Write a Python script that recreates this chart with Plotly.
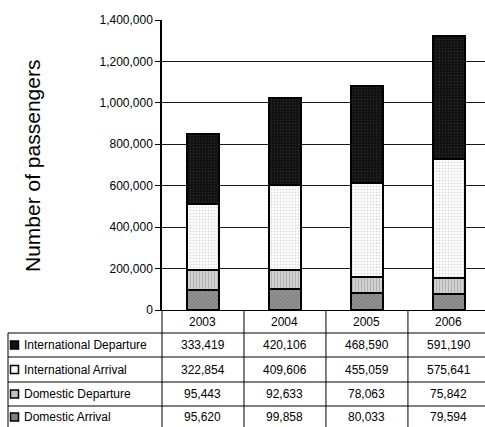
import plotly.graph_objects as go

years = ["2003", "2004", "2005", "2006"]
series_names = ["International Departure", "International Arrival", "Domestic Departure", "Domestic Arrival"]
intl_departure = [333419, 420106, 468590, 591190]
intl_arrival = [322854, 409606, 455059, 575641]
dom_departure = [95443, 92633, 78063, 75842]
dom_arrival = [95620, 99858, 80033, 79594]
y_ticks = [0, 200000, 400000, 600000, 800000, 1000000, 1200000, 1400000]

W, H = 485, 427
L, T, B = 162, 20, 117
PW = W - L
PH = H - T - B

def px_x(px):
    return (px - L) / PW

def px_y(py):
    return (H - B - py) / PH

FONT = "Liberation Sans, Arial, sans-serif"

styles = {
    "Domestic Arrival": dict(shape="x", bgcolor="#949494", fgcolor="#505050", size=3, solidity=0.35),
    "Domestic Departure": dict(shape="|", bgcolor="#d6d6d6", fgcolor="#8c8c8c", size=3, solidity=0.4),
    "International Arrival": dict(shape=".", bgcolor="#ffffff", fgcolor="#b8b8b8", size=3, solidity=0.35),
    "International Departure": dict(shape=".", bgcolor="#0d0d0d", fgcolor="#444444", size=3, solidity=0.3),
}
data_map = {
    "International Departure": intl_departure,
    "International Arrival": intl_arrival,
    "Domestic Departure": dom_departure,
    "Domestic Arrival": dom_arrival,
}

fig = go.Figure()
for name in ["Domestic Arrival", "Domestic Departure", "International Arrival", "International Departure"]:
    fig.add_trace(go.Bar(
        x=list(range(len(years))), y=data_map[name], name=name, width=0.39,
        marker=dict(color=styles[name]["bgcolor"], pattern=styles[name],
                    line=dict(color="black", width=2)),
        showlegend=False,
    ))

shapes = []
annotations = []
line = dict(color="black", width=1)

row_lines = [333, 357, 382, 406]
for py in row_lines:
    shapes.append(dict(type="line", xref="paper", yref="paper", x0=px_x(8), x1=px_x(W + 5),
                       y0=px_y(py), y1=px_y(py), line=line, layer="above"))
shapes.append(dict(type="line", xref="paper", yref="paper", x0=px_x(8), x1=px_x(8),
                   y0=px_y(333), y1=px_y(H + 5), line=line))
shapes.append(dict(type="line", xref="paper", yref="paper", x0=0, x1=0,
                   y0=px_y(310), y1=px_y(H + 5), line=line))
for xb in [0.5, 1.5, 2.5]:
    shapes.append(dict(type="line", xref="x", yref="paper", x0=xb, x1=xb,
                       y0=px_y(310), y1=px_y(H + 5), line=line))

for j, yr in enumerate(years):
    annotations.append(dict(x=j, y=px_y(321.5), xref="x", yref="paper", text=yr, showarrow=False,
                            font=dict(family=FONT, size=12, color="black"), xanchor="center", yanchor="middle"))

row_centers = [345, 369.5, 394, 417]
key_fill = ["#111111", "#ffffff", "#c0c0c0", "#808080"]
for i, name in enumerate(series_names):
    cy = row_centers[i]
    annotations.append(dict(x=px_x(22), y=px_y(cy), xref="paper", yref="paper", text=name,
                            showarrow=False, xanchor="left", yanchor="middle",
                            font=dict(family=FONT, size=12, color="black")))
    shapes.append(dict(type="rect", xref="paper", yref="paper",
                       x0=px_x(10.5), x1=px_x(18.5), y0=px_y(cy - 4), y1=px_y(cy + 4),
                       fillcolor=key_fill[i], line=dict(color="black", width=1.5)))
    for j in range(len(years)):
        annotations.append(dict(x=j, y=px_y(cy), xref="x", yref="paper", text=f"{data_map[name][j]:,}",
                                showarrow=False, xanchor="center", yanchor="middle",
                                font=dict(family=FONT, size=12, color="black")))

annotations.append(dict(x=px_x(32), y=px_y(166), xref="paper", yref="paper", text="Number of passengers",
                        textangle=-90, showarrow=False, xanchor="center", yanchor="middle",
                        font=dict(family=FONT, size=21, color="black")))

fig.update_layout(
    barmode="stack",
    width=W, height=H, autosize=False,
    margin=dict(l=L, r=0, t=T, b=B, pad=0),
    paper_bgcolor="white", plot_bgcolor="white",
    font=dict(family=FONT, size=12, color="black"),
    shapes=shapes, annotations=annotations,
    xaxis=dict(range=[-0.5, 3.44], showticklabels=False, ticks="",
               showline=True, linecolor="black", linewidth=1, showgrid=False, zeroline=False, fixedrange=True),
    yaxis=dict(range=[0, 1400000], tickvals=y_ticks, tickformat=",", ticks="outside", ticklen=5,
               tickcolor="black", showline=True, linecolor="black", linewidth=1.5,
               showgrid=True, gridcolor="#1a1a1a", gridwidth=1, zeroline=False,
               tickfont=dict(family=FONT, size=12, color="black"), fixedrange=True),
)

fig.write_html("out.html", config={"displayModeBar": False})
